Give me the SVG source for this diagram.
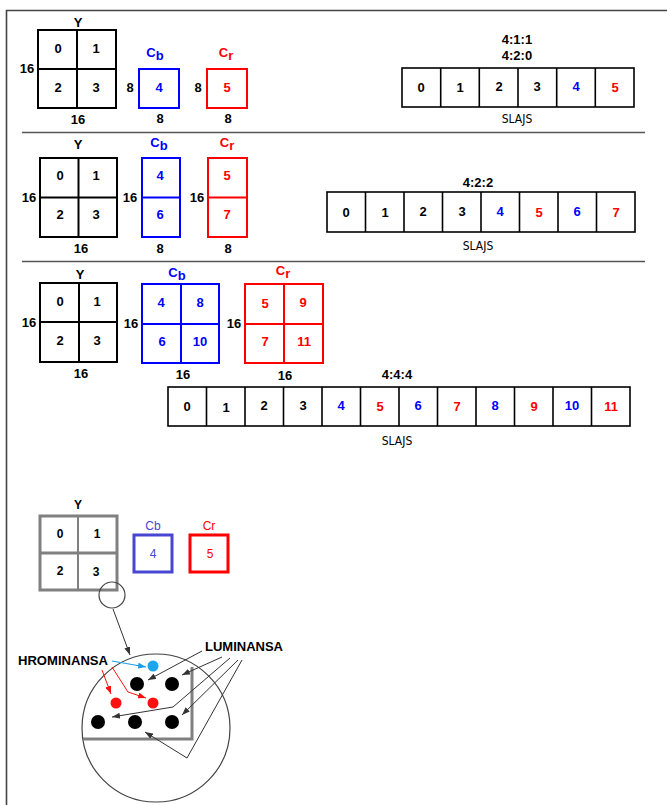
<svg xmlns="http://www.w3.org/2000/svg" width="667" height="805" viewBox="0 0 667 805">
<defs>
<style>
.t{font-family:"Liberation Sans",Arial,sans-serif;font-weight:bold;font-size:13px;text-anchor:middle}
.s{font-family:"DejaVu Sans Condensed","DejaVu Sans",sans-serif;font-size:12px;text-anchor:middle;font-stretch:condensed}
.bk{fill:none;stroke:#000;stroke-width:2}
.bl{fill:none;stroke:#0000ff;stroke-width:2}
.rd{fill:none;stroke:#ff0000;stroke-width:2}
.bar{fill:#fff;stroke:#000;stroke-width:1.6}
.cb{fill:#0000ff}
.cr{fill:#ff0000}
.sep{stroke:#555;stroke-width:1.5}
.b{font-family:"Liberation Sans",Arial,sans-serif;font-size:12px;text-anchor:middle}
.ln{fill:none;stroke:#333;stroke-width:1}
</style>
<marker id="ah" viewBox="0 0 8 6" refX="8" refY="3" markerWidth="8" markerHeight="6" markerUnits="userSpaceOnUse" orient="auto"><path d="M0,0 L8,3 L0,6 Z" fill="#333"/></marker>
<marker id="ahb" viewBox="0 0 8 6" refX="8" refY="3" markerWidth="8" markerHeight="6" markerUnits="userSpaceOnUse" orient="auto"><path d="M0,0 L8,3 L0,6 Z" fill="#1a9ee6"/></marker>
<marker id="ahr" viewBox="0 0 8 6" refX="8" refY="3" markerWidth="8" markerHeight="6" markerUnits="userSpaceOnUse" orient="auto"><path d="M0,0 L8,3 L0,6 Z" fill="#ff1010"/></marker>
</defs>
<rect width="667" height="805" fill="#fff"/>
<g id="frame"><path d="M6.5,805 V10.5 H667" fill="none" stroke="#444" stroke-width="1.6"/></g>
<g id="separators"><line class="sep" x1="22" y1="132.5" x2="645" y2="132.5"/><line class="sep" x1="22" y1="261.5" x2="645" y2="261.5"/></g>

<!-- Section 1 -->
<g id="s1-y">
<text class="t" x="78" y="27">Y</text>
<rect class="bk" x="38" y="30" width="78" height="78"/>
<line class="bk" x1="77" y1="30" x2="77" y2="108"/><line class="bk" x1="38" y1="69" x2="116" y2="69"/>
<text class="t" x="58" y="53">0</text><text class="t" x="96" y="53">1</text>
<text class="t" x="58" y="92">2</text><text class="t" x="96" y="92">3</text>
<text class="t" x="27" y="73">16</text><text class="t" x="78" y="124">16</text>
</g>
<g id="s1-cb">
<text class="t cb" x="155" y="57" font-size="14">C<tspan font-size="13" dy="3">b</tspan></text>
<rect class="bl" x="139" y="69" width="40" height="39"/>
<text class="t cb" x="159" y="92">4</text>
<text class="t" x="130" y="92">8</text><text class="t" x="160" y="123">8</text>
</g>
<g id="s1-cr">
<text class="t cr" x="226" y="57" font-size="14">C<tspan font-size="13" dy="3">r</tspan></text>
<rect class="rd" x="207" y="69" width="40" height="39"/>
<text class="t cr" x="227" y="92">5</text>
<text class="t" x="198" y="92">8</text><text class="t" x="228" y="123">8</text>
</g>
<g id="s1-bar">
<text class="t" x="517" y="44">4:1:1</text><text class="t" x="517" y="60">4:2:0</text>
<rect class="bar" x="402" y="68" width="232" height="39"/>
<path class="bar" d="M440.7,68V107M479.3,68V107M518,68V107M556.7,68V107M595.3,68V107"/>
<text class="t" x="421" y="92">0</text><text class="t" x="460" y="92">1</text><text class="t" x="499" y="91">2</text><text class="t" x="537" y="91">3</text><text class="t cb" x="576" y="91">4</text><text class="t cr" x="615" y="92">5</text>
<text class="s" x="517" y="123">SLAJS</text>
</g>

<!-- Section 2 -->
<g id="s2-y">
<text class="t" x="78" y="149">Y</text>
<rect class="bk" x="40" y="158" width="77" height="79"/>
<line class="bk" x1="78.5" y1="158" x2="78.5" y2="237"/><line class="bk" x1="40" y1="197.5" x2="117" y2="197.5"/>
<text class="t" x="60" y="180">0</text><text class="t" x="96" y="180">1</text>
<text class="t" x="60" y="219">2</text><text class="t" x="96" y="219">3</text>
<text class="t" x="29" y="202">16</text><text class="t" x="81" y="253">16</text>
</g>
<g id="s2-cb">
<text class="t cb" x="159" y="147" font-size="14">C<tspan font-size="13" dy="3">b</tspan></text>
<rect class="bl" x="142" y="158" width="38" height="79"/>
<line class="bl" x1="142" y1="197.5" x2="180" y2="197.5"/>
<text class="t cb" x="160" y="180">4</text><text class="t cb" x="160" y="219">6</text>
<text class="t" x="130" y="202">16</text><text class="t" x="160" y="253">8</text>
</g>
<g id="s2-cr">
<text class="t cr" x="227" y="147" font-size="14">C<tspan font-size="13" dy="3">r</tspan></text>
<rect class="rd" x="208" y="158" width="39" height="79"/>
<line class="rd" x1="208" y1="197.5" x2="247" y2="197.5"/>
<text class="t cr" x="227" y="180">5</text><text class="t cr" x="227" y="219">7</text>
<text class="t" x="197" y="202">16</text><text class="t" x="228" y="253">8</text>
</g>
<g id="s2-bar">
<text class="t" x="478" y="187">4:2:2</text>
<rect class="bar" x="327" y="192" width="308" height="40"/>
<path class="bar" d="M365.5,192V232M404,192V232M442.5,192V232M481,192V232M519.5,192V232M558,192V232M596.5,192V232"/>
<text class="t" x="346" y="217">0</text><text class="t" x="385" y="217">1</text><text class="t" x="423" y="216">2</text><text class="t" x="462" y="216">3</text><text class="t cb" x="500" y="216">4</text><text class="t cr" x="539" y="217">5</text><text class="t cb" x="577" y="216">6</text><text class="t cr" x="616" y="217">7</text>
<text class="s" x="478" y="250">SLAJS</text>
</g>

<!-- Section 3 -->
<g id="s3-y">
<text class="t" x="80" y="279">Y</text>
<rect class="bk" x="40" y="283" width="77" height="79"/>
<line class="bk" x1="79" y1="283" x2="79" y2="362"/><line class="bk" x1="40" y1="322" x2="117" y2="322"/>
<text class="t" x="60" y="306">0</text><text class="t" x="97" y="306">1</text>
<text class="t" x="60" y="345">2</text><text class="t" x="97" y="345">3</text>
<text class="t" x="29" y="327">16</text><text class="t" x="81" y="378">16</text>
</g>
<g id="s3-cb">
<text class="t cb" x="177" y="277" font-size="14">C<tspan font-size="13" dy="3">b</tspan></text>
<rect class="bl" x="142" y="284" width="77" height="79"/>
<line class="bl" x1="181" y1="284" x2="181" y2="363"/><line class="bl" x1="142" y1="324" x2="219" y2="324"/>
<text class="t cb" x="161" y="307">4</text><text class="t cb" x="200" y="307">8</text>
<text class="t cb" x="162" y="346">6</text><text class="t cb" x="200" y="346">10</text>
<text class="t" x="131" y="328">16</text><text class="t" x="183" y="379">16</text>
</g>
<g id="s3-cr">
<text class="t cr" x="283" y="275" font-size="14">C<tspan font-size="13" dy="3">r</tspan></text>
<rect class="rd" x="245" y="284" width="78" height="79"/>
<line class="rd" x1="284" y1="284" x2="284" y2="363"/><line class="rd" x1="245" y1="324" x2="323" y2="324"/>
<text class="t cr" x="265" y="308">5</text><text class="t cr" x="303" y="307">9</text>
<text class="t cr" x="265" y="346">7</text><text class="t cr" x="304" y="346">11</text>
<text class="t" x="234" y="328">16</text><text class="t" x="285" y="380">16</text>
</g>
<g id="s3-bar">
<text class="t" x="397" y="379">4:4:4</text>
<rect class="bar" x="168" y="387" width="462" height="39"/>
<path class="bar" d="M206.5,387V426M245,387V426M283.5,387V426M322,387V426M360.5,387V426M399,387V426M437.5,387V426M476,387V426M514.5,387V426M553,387V426M591.5,387V426"/>
<text class="t" x="187" y="411">0</text><text class="t" x="226" y="412">1</text><text class="t" x="264" y="410">2</text><text class="t" x="303" y="410">3</text><text class="t cb" x="341" y="410">4</text><text class="t cr" x="380" y="411">5</text><text class="t cb" x="418" y="410">6</text><text class="t cr" x="457" y="411">7</text><text class="t cb" x="495" y="410">8</text><text class="t cr" x="534" y="411">9</text><text class="t cb" x="572" y="410">10</text><text class="t cr" x="611" y="411">11</text>
<text class="s" x="397" y="445">SLAJS</text>
</g>

<!-- Bottom section -->
<g id="b-y">
<text class="b" x="78" y="509" font-weight="bold" font-size="11">Y</text>
<rect x="40" y="516" width="77" height="74" fill="none" stroke="#808080" stroke-width="3"/>
<line x1="78" y1="516" x2="78" y2="590" stroke="#808080" stroke-width="2"/><line x1="40" y1="553" x2="117" y2="553" stroke="#808080" stroke-width="3"/>
<text class="b" x="60" y="538" font-weight="bold">0</text><text class="b" x="97" y="538" font-weight="bold">1</text>
<text class="b" x="60" y="575" font-weight="bold">2</text><text class="b" x="96" y="576" font-weight="bold">3</text>
</g>
<g id="b-cb">
<text class="b" x="153" y="530" fill="#4646d2" font-size="13">Cb</text>
<rect x="134" y="535" width="38" height="37" fill="none" stroke="#4646d2" stroke-width="3"/>
<text class="b" x="153" y="558" fill="#4646d2" font-size="13">4</text>
</g>
<g id="b-cr">
<text class="b" x="209" y="530" fill="#ff0000" font-size="13">Cr</text>
<rect x="190" y="535" width="38" height="37" fill="none" stroke="#ff0000" stroke-width="3"/>
<text class="b" x="210" y="558" fill="#ff0000" font-size="13">5</text>
</g>
<g id="b-zoom">
<circle cx="112" cy="595" r="13" fill="none" stroke="#444" stroke-width="1.2"/>
<circle cx="156" cy="728" r="74" fill="none" stroke="#444" stroke-width="1.2"/>
<polyline points="83,739 192,739 192,667" fill="none" stroke="#808080" stroke-width="3"/>
</g>
<g id="b-dots">
<circle cx="137" cy="684" r="7"/><circle cx="172" cy="684" r="7"/>
<circle cx="98" cy="722" r="7"/><circle cx="135" cy="722" r="7"/><circle cx="172" cy="722" r="7"/>
<circle cx="116" cy="703" r="5.5" fill="#ff1010"/><circle cx="153" cy="703" r="5.5" fill="#ff1010"/>
<circle cx="153" cy="666" r="5.5" fill="#1ca6ee"/>
</g>
<g id="b-labels">
<text x="18" y="665" font-family="Liberation Sans,Arial,sans-serif" font-weight="bold" font-size="12" textLength="90" lengthAdjust="spacingAndGlyphs">HROMINANSA</text>
<text x="205" y="651" font-family="Liberation Sans,Arial,sans-serif" font-weight="bold" font-size="12" textLength="78" lengthAdjust="spacingAndGlyphs">LUMINANSA</text>
</g>
<g id="connectors">
<line class="ln" x1="113" y1="609" x2="130" y2="655" marker-end="url(#ah)"/>
<polyline points="112,661 146,667" fill="none" stroke="#1a9ee6" stroke-width="1.2" marker-end="url(#ahb)"/>
<polyline points="102,670 111,694" fill="none" stroke="#ff1010" stroke-width="1" marker-end="url(#ahr)"/>
<polyline points="112,667 128,692 146,698" fill="none" stroke="#ff1010" stroke-width="1" marker-end="url(#ahr)"/>
<line class="ln" x1="202" y1="651" x2="148" y2="680" marker-end="url(#ah)"/>
<line class="ln" x1="222" y1="657" x2="182" y2="675" marker-end="url(#ah)"/>
<polyline class="ln" points="230,658 173,707 112,717" marker-end="url(#ah)"/>
<line class="ln" x1="238" y1="660" x2="182" y2="715" marker-end="url(#ah)"/>
<polyline class="ln" points="242,660 187,758 145,732" marker-end="url(#ah)"/>
</g>
</svg>
